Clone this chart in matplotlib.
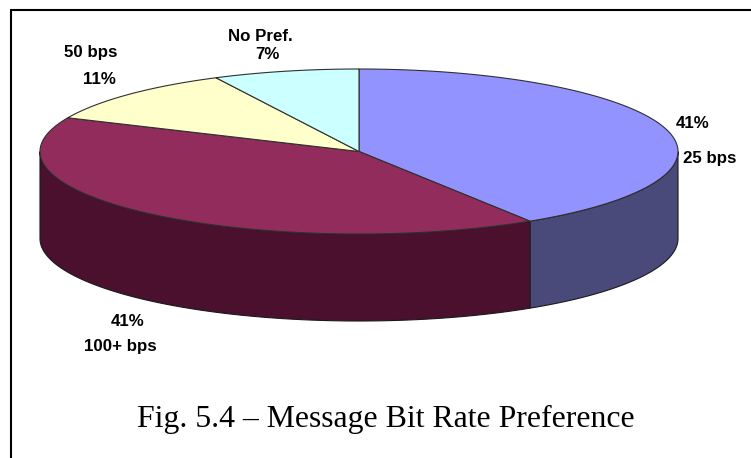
import numpy as np
import matplotlib
matplotlib.use('Agg')
import matplotlib.pyplot as plt
from matplotlib.patches import Polygon

labels = ['25 bps', '100+ bps', '50 bps', 'No Pref.']
values = [41.0, 40.7, 10.9, 7.4]
percent_labels = ['41%', '41%', '11%', '7%']
top_colors = ['#9393ff', '#922c5d', '#ffffcc', '#ccffff']
side_colors = ['#4a4a7a', '#4a102e', '#7f7f66', '#667f7f']

# pie geometry in pixels
cx, cy = 359, 151.5
rx, ry = 319, 82.5
depth = 87

fig = plt.figure(figsize=(7.51, 4.58), dpi=100)
ax = fig.add_axes([0, 0, 1, 1])
ax.set_xlim(0, 751)
ax.set_ylim(458, 0)
ax.axis('off')


def rim(a0, a1):
    # angles clockwise from 12 o'clock, in degrees
    t = np.radians(np.linspace(a0, a1, 200))
    return cx + rx * np.sin(t), cy - ry * np.cos(t)


edges = np.concatenate([[0], np.cumsum(values)]) * 3.6

# side walls, only the front half of the ellipse is seen
for i in range(len(values)):
    a0, a1 = max(edges[i], 90), min(edges[i + 1], 270)
    if a0 >= a1:
        continue
    x, y = rim(a0, a1)
    pts = np.concatenate([np.column_stack([x, y]),
                          np.column_stack([x[::-1], y[::-1] + depth])])
    ax.add_patch(Polygon(pts, closed=True, facecolor=side_colors[i],
                         edgecolor='#1a1a1a', linewidth=0.8))

# top faces
for i in range(len(values)):
    x, y = rim(edges[i], edges[i + 1])
    pts = np.concatenate([[[cx, cy]], np.column_stack([x, y])])
    ax.add_patch(Polygon(pts, closed=True, facecolor=top_colors[i],
                         edgecolor='#303030', linewidth=0.8))

font = dict(family='Liberation Sans', fontsize=12.2, fontweight='bold',
            color='black', ha='center', va='center')
ax.text(710, 159, labels[0], **font)
ax.text(693, 123, percent_labels[0], **font)
ax.text(120.5, 346, labels[1], **font)
ax.text(128, 321, percent_labels[1], **font)
ax.text(91, 53, labels[2], **font)
ax.text(99, 80, percent_labels[2], **font)
ax.text(260, 36.5, labels[3], **font)
ax.text(267, 54.5, percent_labels[3], **font)

ax.text(386, 419.5, 'Fig. 5.4 – Message Bit Rate Preference',
        family='Liberation Serif', fontsize=22.9, color='black',
        ha='center', va='center')

# frame, only left and top sides are in the picture
ax.plot([11, 11], [458, 9.5], color='black', lw=1.5, solid_capstyle='butt')
ax.plot([10, 751], [9.5, 9.5], color='black', lw=1.5, solid_capstyle='butt')

fig.savefig('out.png', dpi=100)
